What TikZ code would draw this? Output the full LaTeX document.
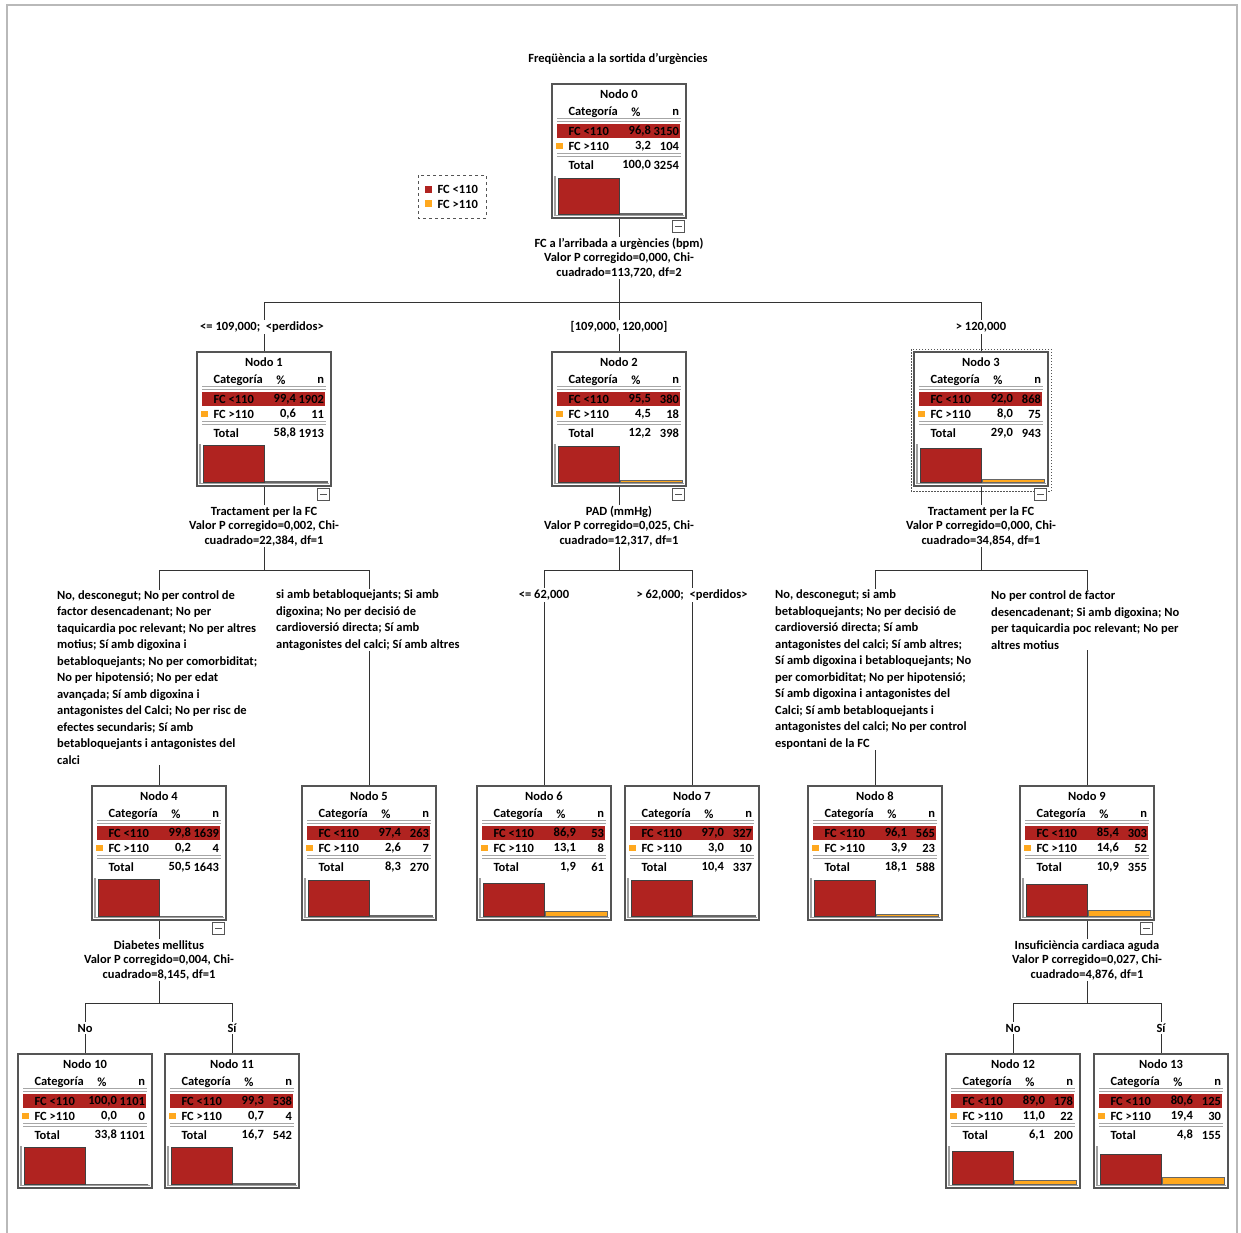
\documentclass[tikz,border=0pt]{standalone}
\usepackage{fontspec}
\setmainfont{Carlito}
\definecolor{fcred}{RGB}{176,35,32}
\definecolor{fcorange}{RGB}{255,168,30}
\definecolor{boxgray}{RGB}{85,85,85}

% one box of the tree: name, top centre, number, %<110, n<110, %>110, n>110, total %, total n
\newcommand{\arbnode}[9]{%
  \begin{scope}[shift={#2}]
    \node[nodebox] (#1) at (0,67) {};
    \node (#1-t) at (0,10) {Nodo #3};
    \node[anchor=west] (#1-c) at (-54,28) {Categoría};
    \node (#1-p) at (17,28) {\%};
    \node[anchor=east] (#1-n) at (63.5,28) {n};
    \draw[rowline] (-62,34.5) -- (62,34.5) (-62,37) -- (62,37);
    \fill[fcred] (-62,40) rectangle (61,54);
    \node[anchor=west] (#1-a) at (-54,47) {FC <110};
    \node[anchor=east] (#1-a1) at (35.5,47) {#4};
    \node[anchor=east] (#1-a2) at (63.5,47) {#5};
    \fill[fcorange] (-63,58.5) rectangle (-56,65);
    \node[anchor=west] (#1-b) at (-54,62) {FC >110};
    \node[anchor=east] (#1-b1) at (35.5,62) {#6};
    \node[anchor=east] (#1-b2) at (63.5,62) {#7};
    \draw[rowline] (-62,69.5) -- (62,69.5) (-62,72) -- (62,72);
    \node[anchor=west] (#1-s) at (-54,81) {Total};
    \node[anchor=east] (#1-s1) at (35.5,81) {#8};
    \node[anchor=east] (#1-s2) at (63.5,81) {#9};
    \draw[axisline] (-64,92) -- (-64,131.5) -- (65,131.5);
    \filldraw[fill=fcred, draw=black!75, line width=0.8pt] (-61,130) rectangle (0,{130-37*(#5/#9)});
    \filldraw[fill=fcorange, draw=black!60, line width=0.6pt] (1,130) rectangle (63,{130-37*(#7/#9)});
  \end{scope}}

\begin{document}
\begin{tikzpicture}[x=1pt, y=-1pt,
    font=\fontsize{12.5}{16.5}\selectfont\bfseries,
    nodebox/.style={draw=boxgray, line width=1.3pt, minimum width=134pt, minimum height=134pt, inner sep=0pt, fill=white},
    rowline/.style={draw=gray!70, line width=0.7pt},
    axisline/.style={draw=gray!75, line width=1.6pt},
    edge/.style={draw=black!80, line width=1pt},
    splittxt/.style={align=center, fill=white, inner sep=1.5pt, font=\fontsize{12.5}{14.5}\selectfont\bfseries},
    cattxt/.style={align=left, fill=white, inner sep=1pt},
    lbl/.style={fill=white, inner sep=2pt},
    minusbox/.style={draw=boxgray, line width=0.8pt, fill=white, minimum size=12pt, inner sep=0pt,
      path picture={\draw[line width=1pt] ([xshift=2.5pt]path picture bounding box.west) -- ([xshift=-2.5pt]path picture bounding box.east);}}]
  \useasboundingbox (0,0) rectangle (1241,1232);
  \draw[gray!55, line width=1.5pt] (7,5) rectangle (1237,1250);

  \node (title) at (618,59) {Freqüència a la sortida d'urgències};

  % legend
  \draw[dashed, boxgray, line width=0.8pt] (418,175) rectangle (486,218);
  \fill[fcred] (425,186) rectangle (432,193);
  \node[anchor=west] (leg1) at (434,189) {FC <110};
  \fill[fcorange] (425,200) rectangle (432,207);
  \node[anchor=west] (leg2) at (434,204) {FC >110};

  \arbnode{n0}{(619,84)}{0}{96,8}{3150}{3,2}{104}{100,0}{3254}
  \arbnode{n1}{(264,352)}{1}{99,4}{1902}{0,6}{11}{58,8}{1913}
  \arbnode{n2}{(619,352)}{2}{95,5}{380}{4,5}{18}{12,2}{398}
  \arbnode{n3}{(981,352)}{3}{92,0}{868}{8,0}{75}{29,0}{943}
  \arbnode{n4}{(159,786)}{4}{99,8}{1639}{0,2}{4}{50,5}{1643}
  \arbnode{n5}{(369,786)}{5}{97,4}{263}{2,6}{7}{8,3}{270}
  \arbnode{n6}{(544,786)}{6}{86,9}{53}{13,1}{8}{1,9}{61}
  \arbnode{n7}{(692,786)}{7}{97,0}{327}{3,0}{10}{10,4}{337}
  \arbnode{n8}{(875,786)}{8}{96,1}{565}{3,9}{23}{18,1}{588}
  \arbnode{n9}{(1087,786)}{9}{85,4}{303}{14,6}{52}{10,9}{355}
  \arbnode{n10}{(85,1054)}{10}{100,0}{1101}{0,0}{0}{33,8}{1101}
  \arbnode{n11}{(232,1054)}{11}{99,3}{538}{0,7}{4}{16,7}{542}
  \arbnode{n12}{(1013,1054)}{12}{89,0}{178}{11,0}{22}{6,1}{200}
  \arbnode{n13}{(1161,1054)}{13}{80,6}{125}{19,4}{30}{4,8}{155}

  \draw[dashed, boxgray, line width=1pt, dash pattern=on 1.5pt off 1.5pt] (911,349) rectangle (1051,491);

  \node[minusbox] (m0) at (678.5,226) {};
  \node[minusbox] (m1) at (323.5,494) {};
  \node[minusbox] (m2) at (678.5,494) {};
  \node[minusbox] (m3) at (1040.5,494) {};
  \node[minusbox] (m4) at (218.5,928) {};
  \node[minusbox] (m9) at (1146.5,928) {};

  \coordinate (b0) at (619,302);
  \coordinate (b1) at (264,570);
  \coordinate (b2) at (619,570);
  \coordinate (b3) at (981,570);
  \coordinate (b4) at (159,1003);
  \coordinate (b9) at (1087,1003);

  \draw[edge] (n0) -- (b0) -| (n1);
  \draw[edge] (b0) -- (n2);
  \draw[edge] (b0) -| (n3);
  \draw[edge] (n1) -- (b1) -| (n4);
  \draw[edge] (b1) -| (n5);
  \draw[edge] (n2) -- (b2) -| (n6);
  \draw[edge] (b2) -| (n7);
  \draw[edge] (n3) -- (b3) -| (n8);
  \draw[edge] (b3) -| (n9);
  \draw[edge] (n4) -- (b4) -| (n10);
  \draw[edge] (b4) -| (n11);
  \draw[edge] (n9) -- (b9) -| (n12);
  \draw[edge] (b9) -| (n13);

  \node[splittxt] (s0) at (619,258) {FC a l'arribada a urgències (bpm)\\Valor P corregido=0,000, Chi-\\cuadrado=113,720, df=2};
  \node[splittxt] (s1) at (264,526) {Tractament per la FC\\Valor P corregido=0,002, Chi-\\cuadrado=22,384, df=1};
  \node[splittxt] (s2) at (619,526) {PAD (mmHg)\\Valor P corregido=0,025, Chi-\\cuadrado=12,317, df=1};
  \node[splittxt] (s3) at (981,526) {Tractament per la FC\\Valor P corregido=0,000, Chi-\\cuadrado=34,854, df=1};
  \node[splittxt] (s4) at (159,960) {Diabetes mellitus\\Valor P corregido=0,004, Chi-\\cuadrado=8,145, df=1};
  \node[splittxt] (s9) at (1087,960) {Insuficiència cardiaca aguda\\Valor P corregido=0,027, Chi-\\cuadrado=4,876, df=1};

  \node[lbl] (l1) at (262,327) {<= 109,000;\ \ <perdidos>};
  \node[lbl] (l2) at (619,327) {[109,000, 120,000]};
  \node[lbl] (l3) at (981,327) {> 120,000};
  \node[cattxt, anchor=west] (l4) at (56,677.5) {No, desconegut; No per control de\\factor desencadenant; No per\\taquicardia poc relevant; No per altres\\motius; Sí amb digoxina i\\betabloquejants; No per comorbiditat;\\No per hipotensió; No per edat\\avançada; Sí amb digoxina i\\antagonistes del Calci; No per risc de\\efectes secundaris; Sí amb\\betabloquejants i antagonistes del\\calci};
  \node[cattxt, anchor=west] (l5) at (275,620) {si amb betabloquejants; Si amb\\digoxina; No per decisió de\\cardioversió directa; Sí amb\\antagonistes del calci; Sí amb altres};
  \node[lbl] (l6) at (544,595) {<= 62,000};
  \node[lbl] (l7) at (692,595) {> 62,000;\ \ <perdidos>};
  \node[cattxt, anchor=west] (l8) at (774,669.5) {No, desconegut; si amb\\betabloquejants; No per decisió de\\cardioversió directa; Sí amb\\antagonistes del calci; Sí amb altres;\\Sí amb digoxina i betabloquejants; No\\per comorbiditat; No per hipotensió;\\Sí amb digoxina i antagonistes del\\Calci; Sí amb betabloquejants i\\antagonistes del calci; No per control\\espontani de la FC};
  \node[cattxt, anchor=west] (l9) at (990,620) {No per control de factor\\desencadenant; Si amb digoxina; No\\per taquicardia poc relevant; No per\\altres motius};
  \node[lbl] (l10) at (85,1028) {No};
  \node[lbl] (l11) at (232,1028) {Sí};
  \node[lbl] (l12) at (1013,1028) {No};
  \node[lbl] (l13) at (1161,1028) {Sí};
\end{tikzpicture}
\end{document}
